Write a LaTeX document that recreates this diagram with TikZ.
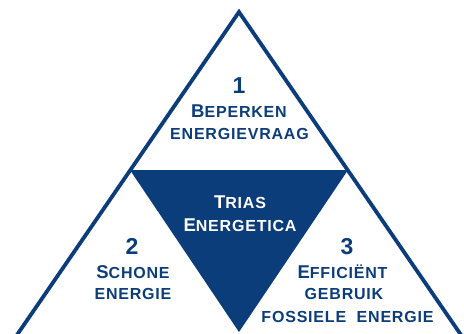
\documentclass[tikz,border=0pt]{standalone}
\usepackage{fontspec}
\setmainfont{Liberation Sans}
\definecolor{triasblue}{RGB}{11,61,122}
\newcommand{\initcap}[1]{{\fontsize{18.5}{18}\selectfont #1}}

\begin{document}
\begin{tikzpicture}[x=1pt, y=-1pt,
  lbl/.style={anchor=base, inner sep=0pt, text=triasblue,
    font=\bfseries\fontsize{16}{16}\selectfont\addfontfeature{LetterSpace=5}},
  num/.style={anchor=base, inner sep=0pt, text=triasblue,
    font=\bfseries\fontsize{23}{23}\selectfont}]
  \useasboundingbox (0,0) rectangle (464,333);
  \clip (0,0) rectangle (464,333);

  % outer triangle (base lies below the picture)
  \coordinate (top) at (239,12);
  \coordinate (bl) at (-3,364);
  \coordinate (br) at (481,364);
  \draw[triasblue, line width=3.8pt, line join=miter] (bl) -- (top) -- (br);

  % middle triangle
  \coordinate (ml) at (130,170);
  \coordinate (mr) at (348,170);
  \coordinate (mb) at (239,332);
  \fill[triasblue] (ml) -- (mr) -- (mb) -- cycle;

  % top part
  \node[num] (n1) at (239,93) {1};
  \node[lbl] (t1a) at (239,117) {\initcap{B}EPERKEN};
  \node[lbl] (t1b) at (239.5,139) {ENERGIEVRAAG};

  % centre
  \node[lbl, text=white] (tc1) at (240,208) {\initcap{T}RIAS};
  \node[lbl, text=white] (tc2) at (240,231) {\initcap{E}NERGETICA};

  % left part
  \node[num] (n2) at (132,254) {2};
  \node[lbl] (t2a) at (133,278) {\initcap{S}CHONE};
  \node[lbl] (t2b) at (133,299) {ENERGIE};

  % right part
  \node[num] (n3) at (347,254) {3};
  \node[lbl] (t3a) at (342.5,278) {\initcap{E}FFICIËNT};
  \node[lbl] (t3b) at (344,299) {GEBRUIK};
  \node[lbl] (t3c) at (347.5,322) {FOSSIELE\ \ ENERGIE};
\end{tikzpicture}
\end{document}
